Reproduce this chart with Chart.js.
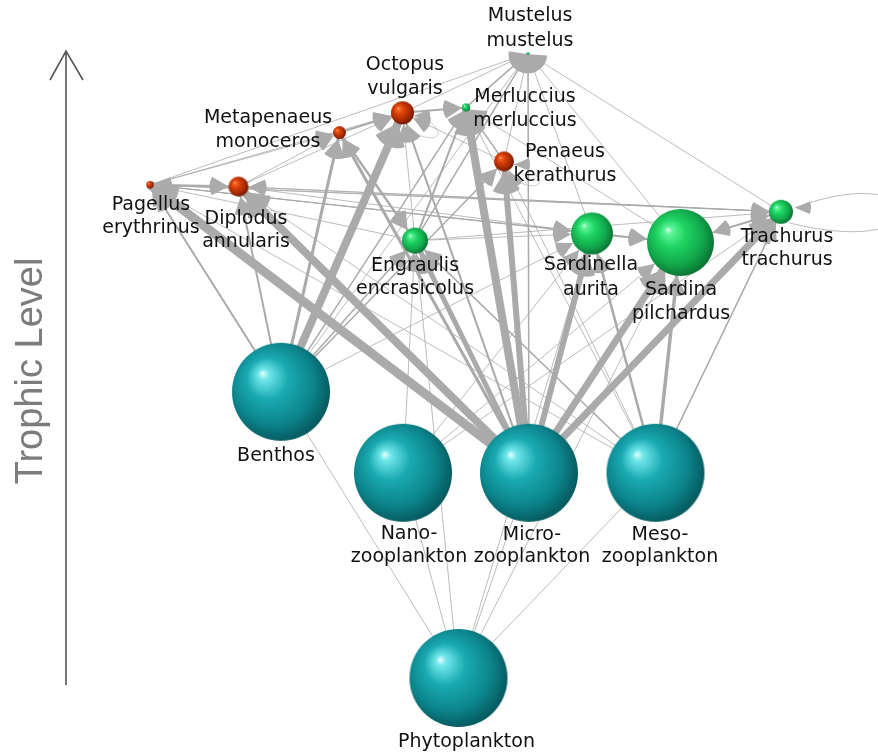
<!DOCTYPE html>
<html><head><meta charset="utf-8">
<script src="https://cdn.jsdelivr.net/npm/chart.js@4.4.0/dist/chart.umd.min.js"></script>
<style>html,body{margin:0;padding:0;background:#fff;}#wrap{width:878px;height:754px;position:relative;}</style>
</head><body><div id="wrap"><canvas id="c"></canvas></div>
<script>
// ---------- DATA ----------
const nodeKeys = ['Mus','Oct','Mer','Met','Pen','Pag','Dip','Eng','Sdl','Sdp','Tra','Ben','Nan','Mic','Mes','Phy'];
const nodeLabels = ['Mustelus\nmustelus','Octopus\nvulgaris','Merluccius\nmerluccius','Metapenaeus\nmonoceros','Penaeus\nkerathurus',
  'Pagellus\nerythrinus','Diplodus\nannularis','Engraulis\nencrasicolus','Sardinella\naurita','Sardina\npilchardus','Trachurus\ntrachurus',
  'Benthos','Nano-\nzooplankton','Micro-\nzooplankton','Meso-\nzooplankton','Phytoplankton'];
const nodeGroups = ['fish','invert','fish','invert','invert','invert','invert','fish','fish','fish','fish','plankton','plankton','plankton','plankton','plankton'];
const nodeLayoutX = [528,402.5,466,339.5,504,150,238.5,415,592,680.5,781,281,403,529,655.5,458.5];
const nodeTrophicLevel = [4.47,4.14,4.17,4.03,3.87,3.74,3.73,3.43,3.47,3.42,3.59,2.59,2.14,2.14,2.14,1.00];
const nodeBiomass = [1.5,11.5,4,6.5,10,3.7,10,13,21,33.5,12,49,49,49,49,49];

const edgeFrom = ['Mic','Mic','Mic','Mic','Mic','Mic','Mic','Mic','Mic','Mic','Mic',
  'Ben','Ben','Ben','Ben','Ben','Ben','Ben','Ben','Ben',
  'Mes','Mes','Mes','Mes','Mes','Mes','Mes','Mes',
  'Nan','Nan','Nan','Nan',
  'Phy','Phy','Phy','Phy','Phy','Phy','Phy',
  'Eng','Eng','Eng','Eng','Eng','Met',
  'Pag','Dip','Eng','Sdl','Sdp','Tra','Sdl','Sdp','Sdp','Sdp','Sdl','Tra','Tra','Tra',
  'Pag','Pag','Pag','Pag','Pag','Dip','Dip','Dip','Met','Oct','Oct','Mer','Pen','Pen','Pen',
  'Tra','Oct','Pen'];
const edgeTo = ['Pag','Dip','Met','Mer','Pen','Eng','Sdl','Sdp','Tra','Oct','Mus',
  'Oct','Met','Dip','Pag','Pen','Mer','Eng','Mus','Sdl',
  'Sdp','Sdl','Tra','Eng','Mer','Pen','Pag','Dip',
  'Eng','Sdl','Sdp','Tra',
  'Nan','Mic','Mes','Ben','Eng','Sdp','Sdl',
  'Mer','Mus','Oct','Tra','Pag','Eng',
  'Sdl','Sdl','Sdl','Sdp','Tra','Sdp','Mus','Mus','Mer','Pag','Pag','Mus','Pag','Dip',
  'Dip','Met','Oct','Mus','Tra','Met','Oct','Tra','Oct','Mer','Mus','Mus','Mus','Mer','Oct',
  'Tra','Oct','Pen'];
const edgeFlow = [9,8,3,8,6,5,6,7,7,2,1.5,
  8,3,2,2,1.5,1.5,1.5,1,1,
  3.5,2.5,1.5,1.5,1,1,1,1,
  1,1,1,1,
  1,1,1,1,1,1,1,
  2,1.5,1,1,1,2.5,
  1,1,1,2,2,1,1,1,1,1,1,1,1,1,
  2,1,1,1,1,1,1,1,2,2,1,1.5,1,1.5,1,
  1,0.8,0.8];

// ---------- helpers ----------
const idx = k => nodeKeys.indexOf(k);
const palettes = {
  plankton: ['#e6ffff','#6fe6ea','#1aaab2','#0c848b','#055a5f'],
  fish:     ['#e4fff0','#5ff59a','#1fd462','#12a84c','#0a7434'],
  invert:   ['#ffc9a0','#f7682a','#d8400a','#a72a02','#6f1800']
};

function sphere(r, group) {
  const rr = Math.max(r, 1.5);
  const s = Math.ceil(rr * 2 + 2);
  const cv = document.createElement('canvas');
  cv.width = s; cv.height = s;
  const c = cv.getContext('2d');
  const cx = s / 2, cy = s / 2;
  const p = palettes[group];
  const g = c.createRadialGradient(cx - 0.38*rr, cy - 0.38*rr, 0, cx - 0.1*rr, cy - 0.1*rr, rr*1.12);
  g.addColorStop(0, p[0]); g.addColorStop(0.1, p[1]); g.addColorStop(0.38, p[2]);
  g.addColorStop(0.75, p[3]); g.addColorStop(1, p[4]);
  c.fillStyle = g;
  c.beginPath(); c.arc(cx, cy, rr, 0, Math.PI * 2); c.fill();
  return cv;
}

const edgeDatasets = [];
for (let e = 0; e < edgeFrom.length; e++) {
  const a = idx(edgeFrom[e]), b = idx(edgeTo[e]);
  if (a === b) continue;
  const w = edgeFlow[e];
  edgeDatasets.push({
    type: 'line',
    data: [{x: nodeLayoutX[a], y: nodeTrophicLevel[a]}, {x: nodeLayoutX[b], y: nodeTrophicLevel[b]}],
    borderColor: w > 1 ? '#aaaaaa' : 'rgba(165,165,165,0.75)',
    borderWidth: w,
    pointRadius: 0,
    fill: false,
    tension: 0,
    order: 2
  });
}

const nodeDataset = {
  type: 'bubble',
  data: nodeKeys.map((k, i) => ({x: nodeLayoutX[i], y: nodeTrophicLevel[i], r: nodeBiomass[i]})),
  borderWidth: 0,
  order: 0,
  backgroundColor: '#1aaab2',
  pointStyle: nodeKeys.map((k, i) => sphere(nodeBiomass[i], nodeGroups[i]))
};

// ---------- plugins ----------
function nodePx(chart, i) {
  return [chart.scales.x.getPixelForValue(nodeLayoutX[i]), chart.scales.y.getPixelForValue(nodeTrophicLevel[i])];
}

const arrowPlugin = {
  id: 'arrows',
  beforeDatasetDraw(chart, args) {
    if (args.meta.type !== 'bubble') return;
    const c = chart.ctx;
    c.save();
    for (let e = 0; e < edgeFrom.length; e++) {
      const a = idx(edgeFrom[e]), b = idx(edgeTo[e]);
      const w = edgeFlow[e];
      const [tx, ty] = nodePx(chart, b);
      const rT = nodeBiomass[b];
      if (a === b) {
        c.strokeStyle = 'rgba(170,170,170,0.8)'; c.lineWidth = w;
        c.beginPath();
        let sx, sy;
        if (nodeKeys[b] === 'Tra') {
          sx = tx + rT + 2; sy = ty - 4;
          c.moveTo(sx, sy);
          c.bezierCurveTo(tx + 150, ty - 55, tx + 165, ty + 50, tx + 8, ty + rT - 1);
        } else {
          sx = tx + rT; sy = ty + 3;
          c.moveTo(sx, sy);
          c.bezierCurveTo(tx + 45, ty + 10, tx + 45, ty + 40, tx + 2, ty + rT + 4);
        }
        c.stroke();
        c.fillStyle = '#ababab';
        c.beginPath(); c.moveTo(sx, sy);
        c.arc(sx, sy, 16, -0.4, 0.4); c.closePath(); c.fill();
        continue;
      }
      if (nodeGroups[b] === 'plankton') continue; // no heads on basal compartments
      const [sx, sy] = nodePx(chart, a);
      const dx = sx - tx, dy = sy - ty, d = Math.hypot(dx, dy);
      const ux = dx / d, uy = dy / d;
      const tipx = tx + ux * rT, tipy = ty + uy * rT;
      const ang = Math.atan2(uy, ux);
      const L = 17 + w * 1.0;
      const ha = 0.45 + w * 0.03;
      c.fillStyle = '#ababab';
      c.beginPath();
      c.moveTo(tipx, tipy);
      c.arc(tipx, tipy, L, ang - ha, ang + ha);
      c.closePath();
      c.fill();
    }
    c.restore();
  }
};

const labelOffsets = {
  Mus:[2,-37,25], Oct:[2.5,-47.5,24], Mer:[59,-10,23.5], Met:[-71.5,-15,24], Pen:[61,-9,23.5],
  Pag:[1,20,23.5], Dip:[7.5,32,23], Eng:[0,25,23.5], Sdl:[-1,32,25], Sdp:[0.5,48,24], Tra:[6,25.5,22.5],
  Ben:[-5,64,0], Nan:[6,61,23], Mic:[3,62,22.5], Mes:[4.5,62,22.5], Phy:[8,64,0]
};

const labelPlugin = {
  id: 'labels',
  afterDatasetsDraw(chart) {
    const c = chart.ctx;
    c.save();
    c.font = '19px "DejaVu Sans"';
    c.fillStyle = '#111';
    c.textAlign = 'center';
    c.textBaseline = 'middle';
    nodeKeys.forEach((k, i) => {
      const [x, y] = nodePx(chart, i);
      const o = labelOffsets[k];
      nodeLabels[i].split('\n').forEach((line, j) => c.fillText(line, x + o[0], y + o[1] + j * o[2]));
    });
    c.restore();
  }
};

const axisPlugin = {
  id: 'trophicAxis',
  beforeDatasetsDraw(chart) {
    const c = chart.ctx;
    c.save();
    c.strokeStyle = '#555'; c.lineWidth = 1.6;
    c.beginPath();
    c.moveTo(66, 685); c.lineTo(66, 51);
    c.moveTo(50, 80); c.lineTo(66, 51); c.lineTo(83, 80);
    c.stroke();
    c.translate(42, 371);
    c.rotate(-Math.PI / 2);
    c.font = '38px "Liberation Sans"';
    c.fillStyle = '#7c7c7c';
    c.textAlign = 'center';
    c.textBaseline = 'alphabetic';
    c.fillText('Trophic Level', 0, 0);
    c.restore();
  }
};

new Chart(document.getElementById('c'), {
  type: 'bubble',
  data: { datasets: [nodeDataset, ...edgeDatasets] },
  options: {
    responsive: true,
    maintainAspectRatio: false,
    animation: false,
    events: [],
    layout: { padding: 0, autoPadding: false },
    clip: false,
    scales: {
      x: { type: 'linear', min: 0, max: 878, display: false },
      y: { type: 'linear', min: 1 - 76/180, max: 1 + 678/180, display: false }
    },
    plugins: { legend: { display: false }, tooltip: { enabled: false } }
  },
  plugins: [axisPlugin, arrowPlugin, labelPlugin]
});
</script>
</body></html>
